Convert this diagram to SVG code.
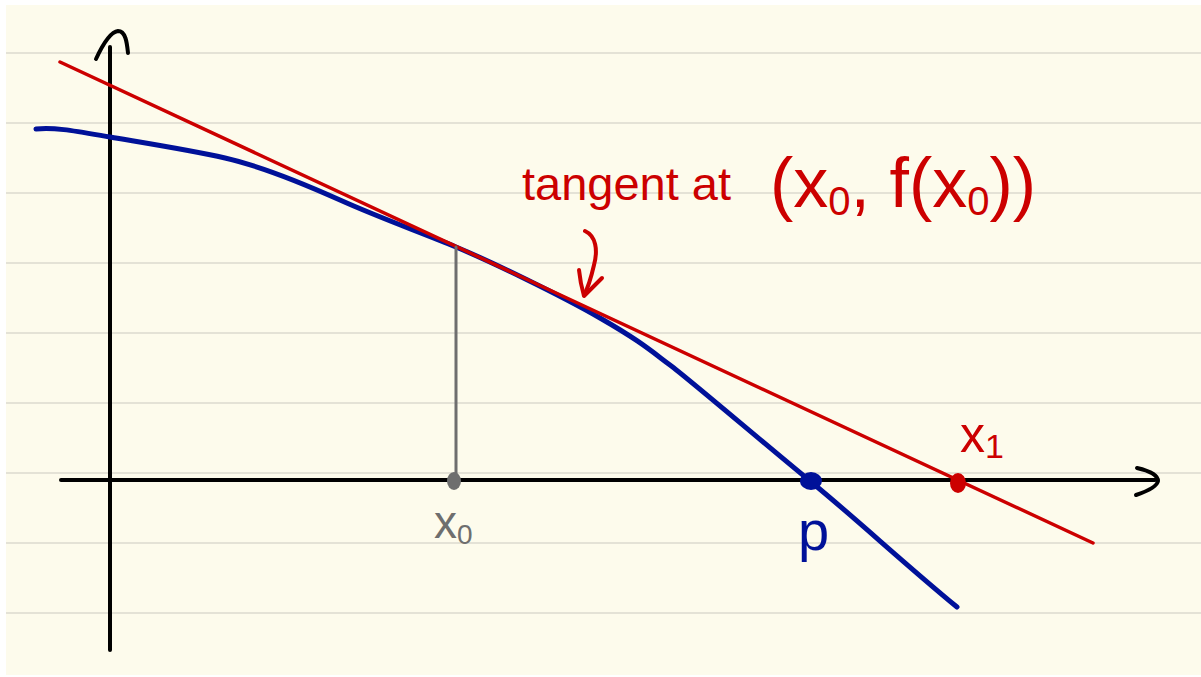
<svg xmlns="http://www.w3.org/2000/svg" width="1201" height="677" viewBox="0 0 1201 677">
<style>
.rule{stroke:#e4e2d6;stroke-width:2;fill:none}
.axis{stroke:#000;stroke-width:4;fill:none;stroke-linecap:round;stroke-linejoin:round}
.red{stroke:#cc0000;fill:none;stroke-linecap:round;stroke-linejoin:round}
.blue{stroke:#001199;fill:none;stroke-linecap:round;stroke-linejoin:round}
.gray{stroke:#6e6e6e;fill:none;stroke-linecap:round}
.t{font-family:"Liberation Sans","DejaVu Sans",sans-serif}
</style>
<rect width="1201" height="677" fill="#ffffff"/>
<rect x="6" y="5" width="1195" height="670" fill="#fdfbec"/>
<g id="rules">
<line class="rule" x1="6" y1="53" x2="1201" y2="53"/>
<line class="rule" x1="6" y1="123" x2="1201" y2="123"/>
<line class="rule" x1="6" y1="193" x2="1201" y2="193"/>
<line class="rule" x1="6" y1="263" x2="1201" y2="263"/>
<line class="rule" x1="6" y1="333" x2="1201" y2="333"/>
<line class="rule" x1="6" y1="403" x2="1201" y2="403"/>
<line class="rule" x1="6" y1="473" x2="1201" y2="473"/>
<line class="rule" x1="6" y1="543" x2="1201" y2="543"/>
<line class="rule" x1="6" y1="613" x2="1201" y2="613"/>
</g>
<g id="axes">
<line class="axis" x1="110" y1="47" x2="110" y2="650"/>
<path class="axis" stroke-width="6" d="M96,59 C102,46 110,32 118,31 C126,31 127,44 128,53"/>
<line class="axis" x1="61" y1="480" x2="1155" y2="480"/>
<path class="axis" stroke-width="6" d="M1137,468 C1150,471 1158,475 1158,481 C1157,487 1145,492 1136,495"/>
</g>
<g id="curve">
<path class="blue" stroke-width="5" d="M36,129 C55,127 75,131 110,137 S190,150 225,158 S300,182 340,200 S420,232 456,247 S560,295 600,318 S650,350 670,365 S760,440 810,481 S900,560 957,607"/>
</g>
<g id="tangent">
<line class="red" stroke-width="3.5" x1="60" y1="62" x2="1093" y2="543"/>
</g>
<g id="x0-marker">
<line class="gray" stroke-width="3" x1="456" y1="247" x2="456" y2="478"/>
<ellipse cx="454" cy="481" rx="7" ry="9" fill="#6e6e6e"/>
<text class="t" x="434" y="538" font-size="46" fill="#6e6e6e">x<tspan font-size="28" dy="6">0</tspan></text>
</g>
<g id="p-marker">
<ellipse cx="811" cy="481" rx="11" ry="9" fill="#001199"/>
<text class="t" x="798" y="550" font-size="56" fill="#001199">p</text>
</g>
<g id="x1-marker">
<ellipse cx="958" cy="483" rx="8" ry="10" fill="#cc0000"/>
<text class="t" x="960" y="452" font-size="50" fill="#cc0000">x<tspan font-size="34" dy="6">1</tspan></text>
</g>
<g id="label">
<text class="t" x="522" y="200" font-size="47" fill="#cc0000">tangent at</text>
<text class="t" x="770" y="207" font-size="70" fill="#cc0000">(x<tspan font-size="40" dy="8">0</tspan><tspan dy="-8">, f(x</tspan><tspan font-size="40" dy="8">0</tspan><tspan dy="-8">))</tspan></text>
</g>
<g id="connectors">
<path class="red" stroke-width="4" d="M585,231 C596,236 598,250 594,265 C591,278 588,288 584,295"/>
<path class="red" stroke-width="4" d="M579,270 C580,280 582,289 584,296 C590,290 596,284 602,278"/>
</g>
</svg>
